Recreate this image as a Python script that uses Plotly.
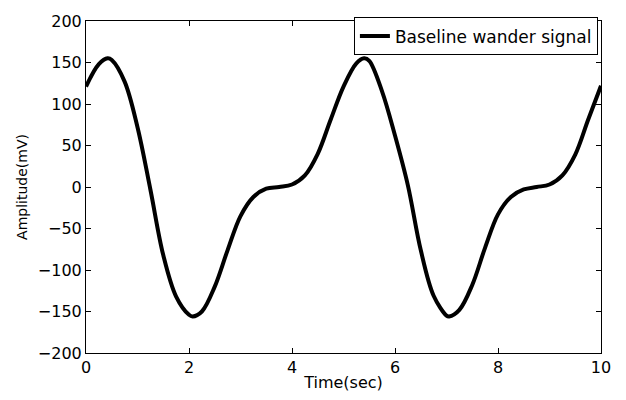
import plotly.graph_objects as go

time_sec = [0.0, 0.25, 0.42, 0.5, 0.75, 1.0, 1.25, 1.5, 1.75, 2.0, 2.07, 2.25, 2.5, 2.75,
            3.0, 3.25, 3.5, 3.75, 4.0, 4.25, 4.5, 4.75, 5.0, 5.25, 5.4, 5.5, 5.75,
            6.0, 6.25, 6.5, 6.75, 7.0, 7.05, 7.25, 7.5, 7.75, 8.0, 8.25, 8.5, 8.75,
            9.0, 9.25, 9.5, 9.75, 10.0]
amplitude_mv = [121, 148, 155, 153, 127, 72, -3, -82, -132, -154, -156, -150, -120, -76,
                -35, -12, -2, 0, 3, 14, 40, 81, 121, 149, 155, 152, 115,
                62, 2, -76, -131, -155, -156, -148, -118, -73, -33, -12, -3, 0,
                3, 14, 39, 81, 122]

x_ticks = [0, 2, 4, 6, 8, 10]
y_ticks = [-200, -150, -100, -50, 0, 50, 100, 150, 200]

FONT = "DejaVu Sans, Arial"

fig = go.Figure()
fig.add_trace(go.Scatter(x=time_sec, y=amplitude_mv, mode="lines",
                         line=dict(color="black", width=4, shape="spline", smoothing=1.0),
                         name="Baseline wander signal"))

axis_common = dict(showgrid=False, zeroline=False, showline=True, linecolor="black",
                   linewidth=1, mirror="ticks", ticks="inside", ticklen=5,
                   tickcolor="black", tickfont=dict(family=FONT, size=16, color="black"))

fig.update_layout(
    width=626, height=400,
    margin=dict(l=86, r=25, t=14, b=42),
    paper_bgcolor="white", plot_bgcolor="white",
    showlegend=True,
    legend=dict(x=0.994, y=1.011, xanchor="right", yanchor="top",
                bordercolor="black", borderwidth=1, bgcolor="white",
                font=dict(family=FONT, size=17, color="black"),
                itemwidth=30, tracegroupgap=0),
    xaxis=dict(range=[0, 10], tickvals=x_ticks,
               title=dict(text="Time(sec)", standoff=0,
                          font=dict(family=FONT, size=16, color="black")),
               **axis_common),
    yaxis=dict(range=[-200, 200], tickvals=y_ticks,
               title=dict(text="Amplitude(mV)", standoff=6,
                          font=dict(family=FONT, size=14, color="black")),
               **axis_common),
)

fig.write_html("out.html")
